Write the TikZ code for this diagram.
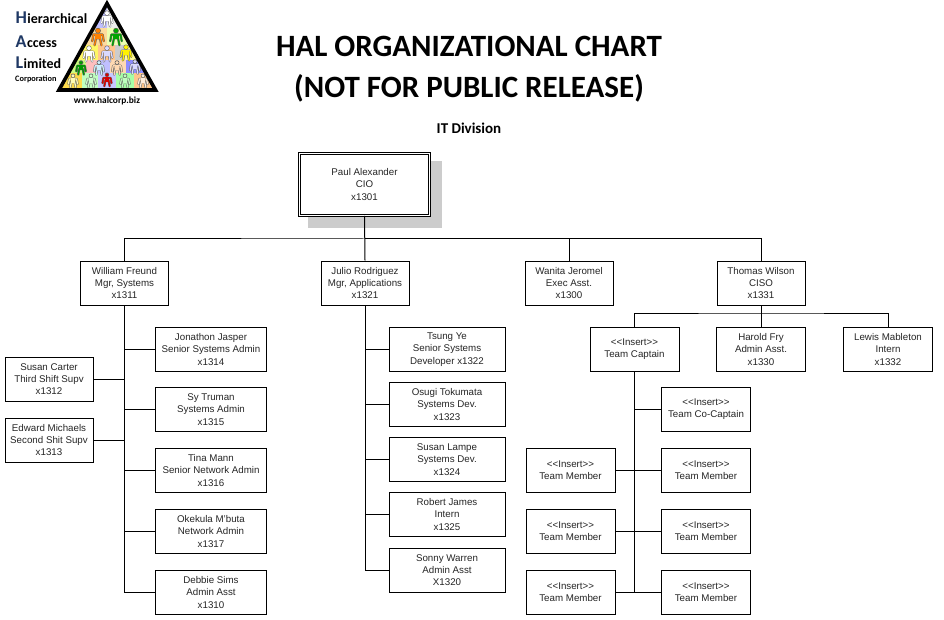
\documentclass[tikz,border=0pt]{standalone}
\usepackage{fontspec}
\setmainfont{Liberation Sans}
\newfontfamily\titlefont{Carlito}
\definecolor{halblue}{HTML}{1F3864}
\tikzset{
  x=1pt,y=-1pt,
  box/.style={draw=black,line width=1pt,fill=white,align=center,font=\fontsize{9.75}{12.3}\selectfont,text=black!85,inner sep=0pt},
  b88/.style={box,minimum width=88pt,minimum height=44pt},
  b90/.style={box,minimum width=89pt,minimum height=44pt},
  b112/.style={box,minimum width=111.5pt,minimum height=44pt},
  b116/.style={box,minimum width=116pt,minimum height=44pt},
  link/.style={draw=black,line width=1pt},
  titletext/.style={font=\titlefont\bfseries\fontsize{31}{41}\selectfont,align=center},
  logocap/.style={anchor=base west,inner sep=0pt,text=halblue,font=\titlefont\bfseries\fontsize{18}{18}\selectfont},
  logosmall/.style={anchor=base west,inner sep=0pt,font=\titlefont\bfseries\fontsize{14}{14}\selectfont},
  person/.pic={
    \draw[line width=2.3pt,line cap=round,line join=round,draw=black!60] (-5,4.5)--(-4,-1.2)--(4,-1.2)--(5,4.5) (0,-1.2)--(0,2) (-3,8)--(-1.8,2)--(1.8,2)--(3,8);
    \fill[black!60] (0,-4.6) circle (2.5);
    \draw[line width=1.3pt,line cap=round,line join=round,draw=#1] (-5,4.5)--(-4,-1.2)--(4,-1.2)--(5,4.5) (-3,8)--(-1.8,2)--(1.8,2)--(3,8);
    \fill[#1] (-2.4,-1.8) rectangle (2.4,3);
    \fill[#1] (0,-4.6) circle (1.9);
  }
}
\begin{document}
\begin{tikzpicture}
\useasboundingbox (0,0) rectangle (944,620);
% logo
\begin{scope}
\clip (107,3)--(60,90)--(155,90)--cycle;
\fill[gray!15] (50,0) rectangle (165,95);
\fill[blue!25] (90,3) rectangle (107,30);
\fill[yellow!25!orange!35] (78,28) rectangle (107,45);
\fill[green!25!yellow!30] (107,28) rectangle (135,45);
\fill[yellow!60] (75,45) rectangle (98,60);
\fill[orange!45] (98,45) rectangle (115,60);
\fill[gray!40] (115,45) rectangle (125,60);
\fill[yellow!40] (125,45) rectangle (142,60);
\fill[green!40!yellow!50] (65,60) rectangle (86,73);
\fill[red!25] (86,60) rectangle (98,73);
\fill[blue!25] (98,60) rectangle (110,73);
\fill[orange!30] (110,60) rectangle (126,73);
\fill[blue!45] (126,60) rectangle (148,73);
\fill[yellow!65!orange!70] (55,73) rectangle (82,90);
\fill[green!25] (82,73) rectangle (98,90);
\fill[blue!22] (98,73) rectangle (116,90);
\fill[green!35] (116,73) rectangle (134,90);
\fill[orange!45] (134,73) rectangle (160,90);
\end{scope}
\foreach \px/\py/\pc/\ps in {107/18/white/1.05,98/36/orange/1.15,116/36/green!65!black/1.15,
89/53/white/1.05,107/53/blue!15/1.05,126/52/yellow/1.05,
81/67/green!60!black/.95,99/67/cyan!20/.95,117/67/orange!30/.95,135/66/blue!15/.95,
73/80/yellow!30/.9,91/80/green!20/.9,107/79/red!85!black/.9,125/80/green!25/.9,143/80/orange!15/.9}
  \pic[scale=\ps] at (\px,\py) {person={\pc}};
\draw[black,line width=3.6pt,line join=miter] (107,3.5)--(59,90)--(155.5,90)--cycle;
\node[logocap] (lh) at (15.5,24) {H};
\node[logosmall] (lh2) at (lh.base east) {ierarchical};
\node[logocap] (la) at (15.5,47.5) {A};
\node[logosmall] (la2) at (la.base east) {ccess};
\node[logocap] (ll) at (15.5,69) {L};
\node[logosmall] (ll2) at (ll.base east) {imited};
\node[anchor=base west,inner sep=0pt,font=\titlefont\bfseries\fontsize{8.3}{9}\selectfont] (lc) at (15,82) {Corporation};
\node[font=\titlefont\bfseries\fontsize{9.4}{9}\selectfont,inner sep=0pt] (lw) at (107,100.5) {www.halcorp.biz};
% titles
\node[titletext] (title) at (469,69) {HAL ORGANIZATIONAL CHART\\(NOT FOR PUBLIC RELEASE)};
\node[font=\titlefont\bfseries\fontsize{15}{16}\selectfont] (division) at (469,128) {IT Division};
% shadow
\fill[black!20] (308,161) rectangle (442,228);
% CIO
\node[box,double,double distance=1.6pt,line width=.9pt,minimum width=130pt,minimum height=62pt] (paul) at (364.5,184.5) {Paul Alexander\\CIO\\x1301};
% level 2
\node[b88,minimum width=87.5pt] (william) at (124.5,283) {William Freund\\Mgr, Systems\\x1311};
\node[b88] (julio) at (365,283) {Julio Rodriguez\\Mgr, Applications\\x1321};
\node[b88] (wanita) at (569,283) {Wanita Jeromel\\Exec Asst.\\x1300};
\node[b88] (thomas) at (761,283) {Thomas Wilson\\CISO\\x1331};
% William
\node[b112] (jonathon) at (211,349.5) {Jonathon Jasper\\Senior Systems Admin\\x1314};
\node[b112] (sy) at (211,409.5) {Sy Truman\\Systems Admin\\x1315};
\node[b112] (tina) at (211,470.5) {Tina Mann\\Senior Network Admin\\x1316};
\node[b112] (okekula) at (211,531.5) {Okekula M'buta\\Network Admin\\x1317};
\node[b112] (debbie) at (211,592.5) {Debbie Sims\\Admin Asst\\x1310};
\node[b88] (susan) at (49,379) {Susan Carter\\Third Shift Supv\\x1312};
\node[b88] (edward) at (49,440) {Edward Michaels\\Second Shit Supv\\x1313};
% Julio
\node[b116] (tsung) at (447,349.5) {Tsung Ye\\Senior Systems\\Developer x1322};
\node[b116] (osugi) at (447,404.5) {Osugi Tokumata\\Systems Dev.\\x1323};
\node[b116] (lampe) at (447,459.5) {Susan Lampe\\Systems Dev.\\x1324};
\node[b116] (robert) at (447,514.5) {Robert James\\Intern\\x1325};
\node[b116] (sonny) at (447,570) {Sonny Warren\\Admin Asst\\X1320};
% Thomas
\node[b90] (captain) at (634.5,349.5) {<{}<Insert>{}>\\Team Captain};
\node[b90] (harold) at (761,349.5) {Harold Fry\\Admin Asst.\\x1330};
\node[b90] (lewis) at (888,349.5) {Lewis Mableton\\Intern\\x1332};
\node[b90] (cocap) at (706,409.5) {<{}<Insert>{}>\\Team Co-Captain};
\node[b90] (r1) at (706,470.5) {<{}<Insert>{}>\\Team Member};
\node[b90] (r2) at (706,531.5) {<{}<Insert>{}>\\Team Member};
\node[b90] (r3) at (706,592.5) {<{}<Insert>{}>\\Team Member};
\node[b90] (l1) at (570.5,470.5) {<{}<Insert>{}>\\Team Member};
\node[b90] (l2) at (570.5,531.5) {<{}<Insert>{}>\\Team Member};
\node[b90] (l3) at (570.5,592.5) {<{}<Insert>{}>\\Team Member};
% connectors
\coordinate (bus) at (365,239);
\coordinate (cisobus) at (761,313);
\draw[link] (paul.south) -- (julio.north);
\draw[link] (william.north) |- (bus) -| (thomas.north);
\draw[link] (wanita.north) |- (bus);
\draw[link] (william.south) |- (debbie.west);
\draw[link] (jonathon.west) -| (william.south);
\draw[link] (sy.west) -| (william.south);
\draw[link] (tina.west) -| (william.south);
\draw[link] (okekula.west) -| (william.south);
\draw[link] (susan.east) -| (william.south);
\draw[link] (edward.east) -| (william.south);
\draw[link] (julio.south) |- (sonny.west);
\draw[link] (tsung.west) -| (julio.south);
\draw[link] (osugi.west) -| (julio.south);
\draw[link] (lampe.west) -| (julio.south);
\draw[link] (robert.west) -| (julio.south);
\draw[link] (thomas.south) -- (cisobus);
\draw[link] (captain.north) |- (cisobus) -| (lewis.north);
\draw[link] (harold.north) -- (cisobus);
\draw[link] (captain.south) |- (r3.west);
\draw[link] (cocap.west) -| (captain.south);
\draw[link] (r1.west) -| (captain.south);
\draw[link] (r2.west) -| (captain.south);
\draw[link] (l1.east) -| (captain.south);
\draw[link] (l2.east) -| (captain.south);
\draw[link] (l3.east) -| (captain.south);
\end{tikzpicture}
\end{document}
